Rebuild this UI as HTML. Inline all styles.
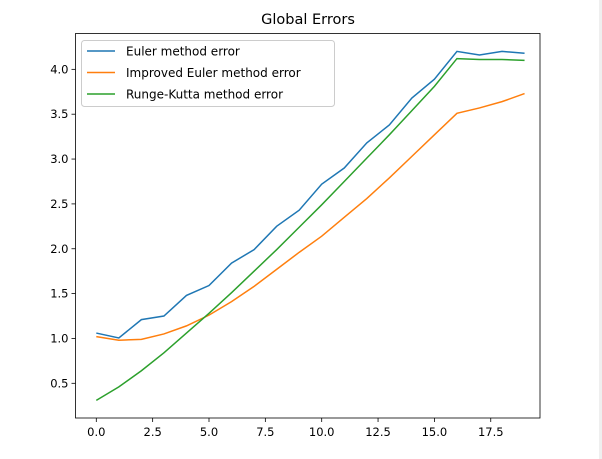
<!DOCTYPE html>
<html><head><meta charset="utf-8"><style>
body{margin:0;background:#fff;}
svg{display:block;font-family:"DejaVu Sans","Liberation Sans",sans-serif;}
</style></head><body>
<svg id="chart" width="602" height="459">
<rect x="0" y="0" width="602" height="459" fill="#fff"/>
<rect x="599" y="0" width="3" height="459" fill="#efefef"/>
<text x="308" y="24" text-anchor="middle" font-size="14.5" fill="#000">Global Errors</text>
<g id="plot"></g>
</svg>
<script>
const xValues=[0,1,2,3,4,5,6,7,8,9,10,11,12,13,14,15,16,17,18,19];
const eulerErr=[1.06,1.005,1.21,1.25,1.48,1.59,1.84,1.99,2.25,2.43,2.72,2.90,3.18,3.38,3.68,3.89,4.20,4.16,4.20,4.18];
const improvedErr=[1.02,0.98,0.99,1.05,1.14,1.26,1.41,1.58,1.77,1.96,2.14,2.35,2.56,2.79,3.03,3.27,3.51,3.57,3.64,3.73];
const rkErr=[0.31,0.46,0.64,0.84,1.06,1.28,1.51,1.75,1.99,2.24,2.49,2.75,3.01,3.27,3.54,3.81,4.12,4.11,4.11,4.10];
const xTicks=[0,2.5,5,7.5,10,12.5,15,17.5];
const yTicks=[0.5,1.0,1.5,2.0,2.5,3.0,3.5,4.0];
const seriesNames=["Euler method error","Improved Euler method error","Runge-Kutta method error"];
const colors=["#1f77b4","#ff7f0e","#2ca02c"];

const L=75.5,R=540,T=33.5,B=418;
const xs=v=>96.3+v*22.54;
const ys=v=>383.3-(v-0.5)*89.7;
const NS="http://www.w3.org/2000/svg";
const g=document.getElementById('plot');
function mk(t,a){const e=document.createElementNS(NS,t);for(const k in a)e.setAttribute(k,a[k]);g.appendChild(e);return e;}

xTicks.forEach(t=>{
  const l=mk('line',{x1:xs(t),x2:xs(t),y1:B,y2:B+4,stroke:'#000','stroke-width':0.8});
  
  
  const tx=mk('text',{x:xs(t),y:B+18,'text-anchor':'middle','font-size':11.5,fill:'#000'});
  tx.textContent=t.toFixed(1);
  
  
});
yTicks.forEach(t=>{
  const l=mk('line',{x1:L-4,x2:L,y1:ys(t),y2:ys(t),stroke:'#000','stroke-width':0.8});
  
  
  const tx=mk('text',{x:L-7,y:ys(t)+4,'text-anchor':'end','font-size':11.5,fill:'#000'});
  tx.textContent=t.toFixed(1);
  
  
});
[eulerErr,improvedErr,rkErr].forEach((s,i)=>{
  const p=mk('polyline',{points:s.map((v,j)=>xs(xValues[j])+','+ys(v)).join(' '),fill:'none',stroke:colors[i],'stroke-width':1.5});
  
  
});
const frame=mk('rect',{x:L,y:T,width:R-L,height:B-T,fill:'none',stroke:'#000','stroke-width':0.8});


const lg=mk('rect',{x:81.5,y:40.5,width:253,height:66,rx:3,fill:'#fff','fill-opacity':0.8,stroke:'#ccc','stroke-width':1});


seriesNames.forEach((n,i)=>{
  const y=51+i*21.5;
  const l=mk('line',{x1:87,x2:115,y1:y,y2:y,stroke:colors[i],'stroke-width':1.5});
  
  
  const t=mk('text',{x:126,y:y+4.5,'font-size':12,fill:'#000'});
  t.textContent=n;
  
  
});
</script>
</body></html>
